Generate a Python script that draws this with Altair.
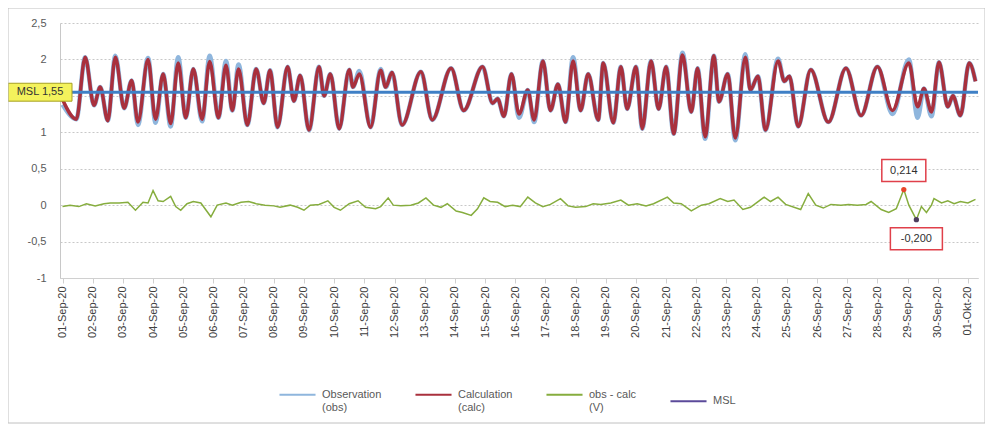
import json
import pandas as pd
import altair as alt

# ---- data (hours after 01-Sep-20 00:00) ----
tide_hours = [0, 11, 18, 25, 30, 36, 42, 49, 55, 60, 68, 74, 80, 86, 92, 98, 104, 111, 117, 124,
              130, 135, 140, 147, 154, 160, 165, 171, 179, 184, 189, 196, 204, 208, 213, 220, 228, 231, 236, 245,
              253, 257, 262, 270, 285, 294, 309, 319, 334, 342, 346, 351, 357, 363, 370, 375, 382, 388, 394, 400,
              406, 412, 418, 426, 430, 438, 444, 449, 456, 461, 468, 474, 480, 486, 493, 500, 505, 511, 518, 522,
              529, 535, 543, 547, 553, 559, 569, 574, 578, 585, 595, 609, 623, 635, 648, 660, 673, 680, 685, 691,
              697, 704, 708, 714, 721, 726]
calc_values = [1.45, 1.18, 2.03, 1.37, 1.62, 1.16, 2.03, 1.33, 1.71, 1.14, 2.00, 1.18, 1.80, 1.12, 1.95, 1.20, 1.87, 1.18, 1.97, 1.20,
               1.92, 1.30, 1.87, 1.10, 1.87, 1.40, 1.85, 1.07, 1.90, 1.43, 1.78, 1.03, 1.90, 1.50, 1.80, 1.05, 1.86, 1.62, 1.80, 1.07,
               1.85, 1.62, 1.82, 1.10, 1.83, 1.17, 1.88, 1.30, 1.90, 1.40, 1.46, 1.22, 1.80, 1.25, 1.58, 1.17, 1.98, 1.30, 1.66, 1.14,
               1.98, 1.30, 1.80, 1.17, 1.95, 1.13, 1.90, 1.32, 1.90, 1.05, 1.98, 1.32, 1.90, 0.98, 2.06, 1.28, 1.88, 0.94, 2.05, 1.42,
               1.80, 0.92, 2.03, 1.58, 1.77, 1.03, 1.98, 1.70, 1.77, 1.08, 1.86, 1.14, 1.88, 1.23, 1.90, 1.30, 1.95, 1.35, 1.60, 1.28,
               1.96, 1.35, 1.50, 1.23, 1.95, 1.70]
obs_values = [1.38, 1.18, 2.03, 1.37, 1.62, 1.16, 2.05, 1.33, 1.71, 1.10, 2.02, 1.13, 1.80, 1.08, 2.03, 1.20, 1.87, 1.15, 2.05, 1.20,
              1.98, 1.30, 1.93, 1.10, 1.87, 1.40, 1.85, 1.07, 1.90, 1.43, 1.78, 1.03, 1.90, 1.50, 1.80, 1.05, 1.86, 1.62, 1.84, 1.07,
              1.87, 1.62, 1.82, 1.10, 1.83, 1.17, 1.88, 1.30, 1.90, 1.40, 1.46, 1.22, 1.80, 1.20, 1.58, 1.14, 1.98, 1.30, 1.66, 1.14,
              2.03, 1.30, 1.80, 1.17, 1.95, 1.13, 1.90, 1.32, 1.90, 1.05, 1.98, 1.32, 1.90, 0.98, 2.09, 1.28, 1.88, 0.91, 2.05, 1.42,
              1.80, 0.89, 2.07, 1.58, 1.77, 1.03, 2.01, 1.70, 1.77, 1.08, 1.86, 1.14, 1.88, 1.23, 1.90, 1.25, 2.00, 1.20, 1.60, 1.22,
              1.96, 1.35, 1.50, 1.23, 1.95, 1.70]

resid_hours = [0, 6, 13, 19, 26, 33, 38, 45, 52, 58, 64, 68, 72, 76, 80, 86, 90, 94, 99, 104,
               110, 118, 123, 130, 135, 142, 148, 154, 161, 168, 173, 181, 187, 192, 197, 204, 211, 216, 221, 228,
               235, 241, 249, 253, 259, 263, 269, 277, 283, 289, 295, 301, 306, 313, 318, 325, 330, 335, 340, 346,
               352, 358, 364, 370, 376, 382, 388, 396, 402, 408, 416, 422, 428, 436, 444, 450, 457, 464, 470, 481,
               486, 492, 500, 508, 514, 523, 529, 534, 541, 547, 558, 563, 569, 575, 587, 593, 599, 605, 611, 619,
               625, 632, 639, 643, 651, 657, 663, 669, 673, 679, 683, 687, 691, 693, 699, 704, 709, 714, 720, 726]
resid_values = [-0.02, 0.00, -0.02, 0.02, -0.01, 0.02, 0.03, 0.03, 0.04, -0.07, 0.04, 0.03, 0.20, 0.06, 0.05, 0.12, -0.02, -0.07, 0.02, 0.05,
                0.03, -0.16, 0.00, 0.03, 0.00, 0.04, 0.05, 0.02, 0.00, -0.01, -0.03, 0.00, -0.03, -0.07, 0.00, 0.01, 0.06, -0.03, -0.07, 0.02,
                0.06, -0.03, -0.05, -0.02, 0.10, 0.00, -0.01, 0.00, 0.03, 0.10, 0.00, -0.03, 0.02, -0.08, -0.10, -0.14, -0.05, 0.10, 0.05, 0.04,
                -0.02, 0.00, -0.02, 0.11, 0.03, -0.02, 0.01, 0.09, -0.01, -0.03, -0.02, 0.02, 0.01, 0.03, 0.07, 0.00, 0.02, -0.01, 0.02, 0.11,
                0.03, 0.02, -0.08, 0.00, 0.02, 0.09, 0.05, 0.07, -0.06, -0.03, 0.11, 0.05, 0.11, 0.01, -0.06, 0.16, 0.00, -0.04, 0.01, 0.00,
                0.01, 0.00, 0.01, 0.05, -0.06, -0.10, -0.05, 0.214, 0.00, -0.200, -0.02, -0.10, 0.00, 0.09, 0.03, 0.06, 0.02, 0.05, 0.03, 0.08]

msl_value = 1.55
msl_label = "MSL 1,55"

day_labels = ["01-Sep-20", "02-Sep-20", "03-Sep-20", "04-Sep-20", "05-Sep-20", "06-Sep-20", "07-Sep-20",
              "08-Sep-20", "09-Sep-20", "10-Sep-20", "11-Sep-20", "12-Sep-20", "13-Sep-20", "14-Sep-20",
              "15-Sep-20", "16-Sep-20", "17-Sep-20", "18-Sep-20", "19-Sep-20", "20-Sep-20", "21-Sep-20",
              "22-Sep-20", "23-Sep-20", "24-Sep-20", "25-Sep-20", "26-Sep-20", "27-Sep-20", "28-Sep-20",
              "29-Sep-20", "30-Sep-20", "01-Okt-20"]
day_hours = [0, 24, 48, 72, 96, 120, 144, 168, 192, 216, 240, 264, 288, 312, 336, 360, 384, 408, 432, 456,
             480, 504, 528, 552, 576, 600, 624, 648, 672, 696, 720]
y_ticks = [-1, -0.5, 0, 0.5, 1, 1.5, 2, 2.5]

series_names = ["Observation (obs)", "Calculation (calc)", "obs - calc (V)", "MSL"]
series_colors = ["#8fb6dd", "#a9303d", "#86ad3e", "#5b4a9a"]

# ---- tables ----
n = len(tide_hours)
df_obs = pd.DataFrame({"hour": tide_hours, "value": obs_values, "series": [series_names[0]] * n})
df_calc = pd.DataFrame({"hour": tide_hours, "value": calc_values, "series": [series_names[1]] * n})
df_res = pd.DataFrame({"hour": resid_hours, "value": resid_values, "series": [series_names[2]] * len(resid_hours)})
df_msl = pd.DataFrame({"value": [msl_value], "label": [msl_label]})

imax = resid_values.index(max(resid_values))
imin = resid_values.index(min(resid_values))


def fmt(v):
    return f"{v:.3f}".replace(".", ",")


df_max = pd.DataFrame({"hour": [resid_hours[imax]], "value": [resid_values[imax]], "label": [fmt(resid_values[imax])]})
df_min = pd.DataFrame({"hour": [resid_hours[imin]], "value": [resid_values[imin]], "label": [fmt(resid_values[imin])]})

FONT = "Liberation Sans"

label_expr_x = json.dumps(day_labels) + "[round(datum.value / 24)]"
x_axis = alt.Axis(values=day_hours, labelExpr=label_expr_x, labelAngle=270,
                  grid=False, title=None, labelFontSize=11, labelColor="#404040", labelFont=FONT,
                  domainColor="#d0d0d0", tickColor="#d0d0d0", tickSize=5, labelPadding=3,
                  labelOverlap=False, labelBound=False, labelFlush=False)
y_axis = alt.Axis(values=y_ticks, labelExpr="replace(toString(datum.value), '.', ',')",
                  title=None, ticks=False, labelPadding=14, labelFontSize=11,
                  labelColor="#595959", labelFont=FONT, gridColor="#c8c8c8", gridDash=[2, 2],
                  domainColor="#c8c8c8", labelOverlap=False, labelBound=False, labelFlush=False, zindex=0)
x_scale = alt.Scale(domain=[-2, 728], nice=False, zero=False)
y_scale = alt.Scale(domain=[-1, 2.5], nice=False, zero=False)
x_enc = alt.X("hour:Q", scale=x_scale, axis=x_axis)
y_enc = alt.Y("value:Q", scale=y_scale, axis=y_axis)

legend_label_expr = ("indexof(datum.label, ' (') > 0 ? [substring(datum.label, 0, indexof(datum.label, ' (')), "
                     "substring(datum.label, indexof(datum.label, ' (') + 1)] : datum.label")
color_enc = alt.Color("series:N",
                      scale=alt.Scale(domain=series_names, range=series_colors),
                      legend=alt.Legend(title=None, orient="none", legendX=218, legendY=352, direction="horizontal",
                                        columns=4, symbolType="stroke", symbolSize=1300, symbolStrokeWidth=2,
                                        labelFontSize=11, labelColor="#595959", labelFont=FONT,
                                        labelExpr=legend_label_expr, labelBaseline="middle", columnPadding=29,
                                        labelOffset=5))

obs_line = alt.Chart(df_obs).mark_line(interpolate="monotone", strokeWidth=4.5).encode(x=x_enc, y=y_enc, color=color_enc)
calc_line = alt.Chart(df_calc).mark_line(interpolate="monotone", strokeWidth=3.5).encode(x=x_enc, y=y_enc, color=color_enc)
res_line = alt.Chart(df_res).mark_line(strokeWidth=1.5).encode(x=x_enc, y=y_enc, color=color_enc)

msl_rule = alt.Chart(df_msl).mark_rule(color="#3f80c6", strokeWidth=3).encode(y=y_enc)
msl_box = alt.Chart(df_msl).mark_point(shape="M-2,-0.56H2V0.56H-2Z", size=1024, filled=True, fill="#f4f25c",
                                        stroke="#a6a020", strokeWidth=1, opacity=1).encode(
    x=alt.value(-20), y=y_enc)
msl_text = alt.Chart(df_msl).mark_text(fontSize=11, font=FONT, color="#333333").encode(
    x=alt.value(-20), y=y_enc, text="label:N")

max_box = alt.Chart(df_max).mark_point(shape="M-1.375,-1.88H1.375V-0.5H-1.375Z", size=1024, filled=True,
                                       fill="white", stroke="#e0404a", strokeWidth=1.5, opacity=1).encode(
    x=x_enc, y=y_enc)
max_text = alt.Chart(df_max).mark_text(fontSize=11, font=FONT, color="#303030", dy=-19).encode(
    x=x_enc, y=y_enc, text="label:N")
max_dot = alt.Chart(df_max).mark_point(filled=True, size=28, color="#e8452a", opacity=1).encode(x=x_enc, y=y_enc)

min_box = alt.Chart(df_min).mark_point(shape="M-1.625,0.5H1.625V1.88H-1.625Z", size=1024, filled=True,
                                       fill="white", stroke="#e0404a", strokeWidth=1.5, opacity=1).encode(
    x=x_enc, y=y_enc)
min_text = alt.Chart(df_min).mark_text(fontSize=11, font=FONT, color="#303030", dy=19).encode(
    x=x_enc, y=y_enc, text="label:N")
min_dot = alt.Chart(df_min).mark_point(filled=True, size=28, color="#4e3e5e", opacity=1).encode(x=x_enc, y=y_enc)

frame = alt.Chart(pd.DataFrame({"f": [0]})).mark_rect(fillOpacity=0, stroke="#c0c0c0", strokeWidth=1).encode(
    x=alt.value(-52), x2=alt.value(925), y=alt.value(-15), y2=alt.value(400))

chart = alt.layer(
    obs_line, calc_line, res_line, msl_rule,
    max_dot, min_dot, max_box, max_text, min_box, min_text,
    msl_box, msl_text, frame
).properties(
    width=918, height=255,
    autosize=alt.AutoSizeParams(type="none"),
    padding={"left": 52, "top": 15, "right": 7, "bottom": 146},
    background="white",
).configure_view(strokeWidth=0)

chart.save("out.html", embed_options={"renderer": "svg", "actions": False})
